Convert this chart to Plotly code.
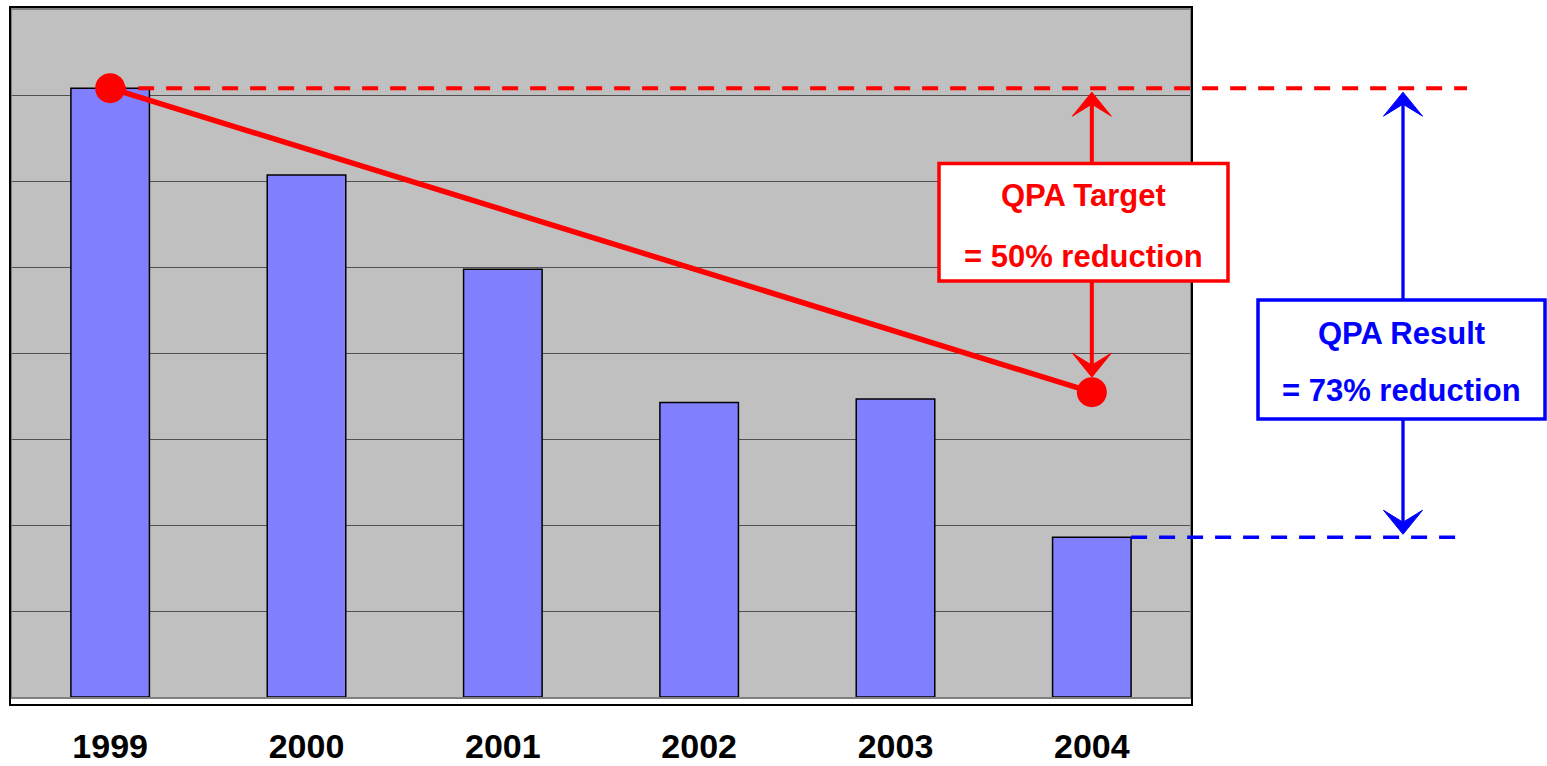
import plotly.graph_objects as go

# ---- data ----
years = ["1999", "2000", "2001", "2002", "2003", "2004"]
values = [7.09, 6.08, 4.98, 3.43, 3.47, 1.86]
target_years = ["1999", "2004"]
target_values = [7.09, 3.55]
target_label = ["QPA Target", "= 50% reduction"]
result_label = ["QPA Result", "= 73% reduction"]

# ---- geometry ----
W, H = 1547, 766
ML, MR, MT, MB = 12, 0, 10, 69
PW = W - ML - MR          # paper width in px
PH = H - MT - MB          # plot height in px
YMAX = 8
UNIT = PH / YMAX          # px per y unit
PLOT_W = 1178
XDOM = PLOT_W / PW
N = len(years)
BAR_W = 0.4


def xpx(p):
    """pixel x -> paper x"""
    return (p - ML) / PW


def dy(p):
    """pixel distance -> y units"""
    return p / UNIT


def ypx(p):
    """pixel y -> y data units"""
    return (MT + PH - p) / UNIT


def xcat(i):
    """category position (index) -> paper x"""
    return XDOM * (i + 0.5) / N


RED = "#FF0000"
BLUE = "#0000FF"
FONT = "Arial, 'Liberation Sans', sans-serif"

fig = go.Figure()
fig.add_trace(go.Bar(
    x=years, y=values, width=BAR_W,
    marker=dict(color="#8080FF", line=dict(color="black", width=1.5)),
    showlegend=False, hoverinfo="skip",
))
fig.add_trace(go.Scatter(
    x=target_years, y=target_values, mode="lines+markers",
    line=dict(color=RED, width=5.5),
    marker=dict(color=RED, size=30),
    cliponaxis=False, showlegend=False, hoverinfo="skip",
))

shapes = []
# outer frame
shapes.append(dict(type="rect", xref="paper", yref="paper",
                   x0=xpx(10), x1=xpx(1192), y0=-8 / PH, y1=1 + 3 / PH,
                   line=dict(color="black", width=2), layer="above"))

base = values[0]
res = values[-1]
tgt = target_values[-1]

# dashed reference lines
shapes.append(dict(type="line", xref="paper", yref="y",
                   x0=xcat(0), x1=xpx(1467), y0=base, y1=base,
                   line=dict(color=RED, width=4, dash="16px,12px")))
shapes.append(dict(type="line", xref="paper", yref="y",
                   x0=XDOM * (N - 0.5 + BAR_W / 2) / N, x1=xpx(1458), y0=res, y1=res,
                   line=dict(color=BLUE, width=3.5, dash="16px,12px")))

# boxes
red_box = (939, 1228, 163.5, 281)
blue_box = (1258, 1545, 300, 419)
for (bx0, bx1, by0, by1), col in ((red_box, RED), (blue_box, BLUE)):
    shapes.append(dict(type="rect", xref="paper", yref="y",
                       x0=xpx(bx0), x1=xpx(bx1), y0=ypx(by1), y1=ypx(by0),
                       fillcolor="white", line=dict(color=col, width=3.5)))

HEAD_W, HEAD_L, NOTCH = 39, 24, 12


def arrow(xp, y_from, y_tip, col, lw):
    """vertical arrow, xp in paper, y in data units"""
    d = 1 if y_tip > y_from else -1
    hx = HEAD_W / 2 / PW
    y_notch = y_tip - d * dy(HEAD_L - NOTCH)
    y_wing = y_tip - d * dy(HEAD_L)
    shapes.append(dict(type="line", xref="paper", yref="y",
                       x0=xp, x1=xp, y0=y_from, y1=y_notch,
                       line=dict(color=col, width=lw)))
    path = (f"M {xp},{y_tip} L {xp - hx},{y_wing} L {xp},{y_notch} "
            f"L {xp + hx},{y_wing} Z")
    shapes.append(dict(type="path", xref="paper", yref="y", path=path,
                       fillcolor=col, line=dict(color=col, width=1)))


xr = xcat(N - 1)
arrow(xr, ypx(red_box[2]), base - dy(4), RED, 4)
arrow(xr, ypx(red_box[3]), tgt + dy(15), RED, 4)
xb = xpx(1403)
arrow(xb, ypx(blue_box[2]), base - dy(4), BLUE, 3.3)
arrow(xb, ypx(blue_box[3]), res + dy(3), BLUE, 3.3)

annotations = []
for lbl, ycen, col, box in ((target_label[0], 194, RED, red_box),
                            (target_label[1], 255, RED, red_box),
                            (result_label[0], 332, BLUE, blue_box),
                            (result_label[1], 389, BLUE, blue_box)):
    annotations.append(dict(
        text=f"<b>{lbl}</b>", xref="paper", yref="y",
        x=xpx((box[0] + box[1]) / 2), y=ypx(ycen + 1),
        xanchor="center", yanchor="middle", showarrow=False,
        font=dict(family=FONT, size=31, color=col)))

fig.update_layout(
    width=W, height=H,
    margin=dict(l=ML, r=MR, t=MT, b=MB, pad=0, autoexpand=False),
    paper_bgcolor="white", plot_bgcolor="#C0C0C0",
    shapes=shapes, annotations=annotations,
    bargap=0.6, showlegend=False,
    xaxis=dict(domain=[0, XDOM], type="category", categoryorder="array",
               categoryarray=years, range=[-0.5, N - 0.5],
               showgrid=False, zeroline=False, ticks="", automargin=False,
               showline=True, mirror=True, linecolor="#808080", linewidth=2,
               tickfont=dict(family=FONT, size=34, color="black"),
               tickvals=years, ticktext=[f"<b>{y}</b>" for y in years],
               ticklabelstandoff=18),
    yaxis=dict(range=[0, YMAX], dtick=1, showticklabels=False, automargin=False,
               showgrid=True, gridcolor="#505050", gridwidth=1,
               zeroline=False, ticks="",
               showline=True, mirror=True, linecolor="#808080", linewidth=2),
)

fig.write_html(
    "out.html",
    config={"displayModeBar": False},
    post_script="document.body.style.margin='0';document.body.style.overflow='hidden';",
)
